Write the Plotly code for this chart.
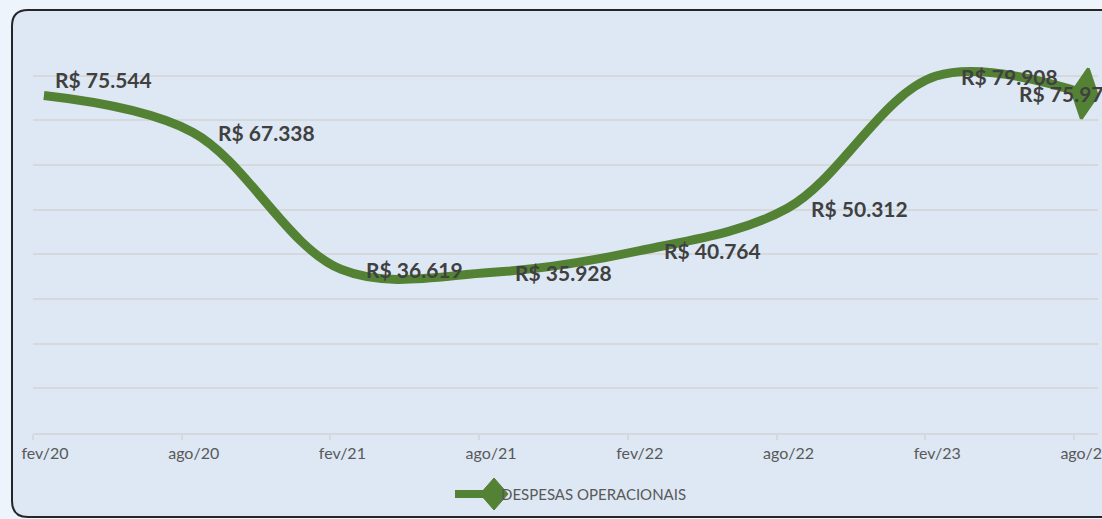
import plotly.graph_objects as go

# ---- data ----
categories = ["fev/20", "ago/20", "fev/21", "ago/21", "fev/22", "ago/22", "fev/23", "ago/23"]
values = [75544, 67338, 36619, 35928, 40764, 50312, 79908, 75973]
series_name = "DESPESAS OPERACIONAIS"

# month index of each category (6-month steps)
months = [6 * i for i in range(len(categories))]

# ---- style ----
W, H = 1102, 519
ML, MR, MT, MB = 33, 4, 31, 86
PW, PH = W - ML - MR, H - MT - MB
GREEN = "#548235"
OUTER = "#eef4fb"
INNER = "#dde8f4"
GRID = "#d6d9dc"
TXT = "#404040"
TICK = "#595959"
FONT = "Lato, 'Open Sans', sans-serif"

tick_offset = 0.44          # category boundary before the data point (months)
px_per_month = 148.7 / 6
x0 = -tick_offset
x1 = x0 + PW / px_per_month

label_dx = [9, 23, 23, 23, 23, 22, 23, -68]
label_dy = [16, 0, 0, 0, 0, 0, 0, 0]


def X(px):
    return (px - ML) / PW


def Y(py):
    return (H - MB - py) / PH


fig = go.Figure()

fig.add_trace(go.Scatter(
    x=months, y=values, mode="lines", name=series_name,
    line=dict(color=GREEN, width=9, shape="spline", smoothing=1),
    showlegend=False, hoverinfo="skip", cliponaxis=False,
))
fig.add_trace(go.Scatter(
    x=months[-1:], y=values[-1:], mode="markers",
    marker=dict(symbol="diamond-tall", size=36, angle=8, color=GREEN,
                line=dict(color=GREEN, width=3)),
    showlegend=False, hoverinfo="skip", cliponaxis=False,
))

for i, (m, v) in enumerate(zip(months, values)):
    fig.add_annotation(
        x=m, y=v, text="R$ " + f"{v:,}".replace(",", "."),
        showarrow=False, xanchor="left", yanchor="middle",
        xshift=label_dx[i], yshift=label_dy[i],
        font=dict(family=FONT, size=21, color=TXT, weight="bold"),
    )

# rounded chart-area border
L, T, R, B, r = 12, 10, 1140, 517, 16
path = (
    f"M{X(L + r)},{Y(T)} L{X(R)},{Y(T)} L{X(R)},{Y(B)} L{X(L + r)},{Y(B)} "
    f"Q{X(L)},{Y(B)} {X(L)},{Y(B - r)} L{X(L)},{Y(T + r)} "
    f"Q{X(L)},{Y(T)} {X(L + r)},{Y(T)} Z"
)
fig.add_shape(type="path", path=path, xref="paper", yref="paper",
              fillcolor=INNER, line=dict(color="#262626", width=2), layer="below")

# legend (line with diamond end, as in the original)
LY = 494
fig.add_shape(type="line", xref="paper", yref="paper",
              x0=X(455), x1=X(488), y0=Y(LY), y1=Y(LY),
              line=dict(color=GREEN, width=8))
fig.add_shape(type="path", xref="paper", yref="paper",
              path=f"M{X(494)},{Y(LY - 16)} L{X(508)},{Y(LY)} L{X(494)},{Y(LY + 16)} "
                   f"L{X(480)},{Y(LY)} Z",
              fillcolor=GREEN, line=dict(color=GREEN, width=1))
fig.add_annotation(x=X(499), y=Y(LY), xref="paper", yref="paper",
                   text=series_name, showarrow=False, xanchor="left", yanchor="middle",
                   font=dict(family=FONT, size=15, color=TICK))

fig.update_layout(
    width=W, height=H,
    margin=dict(l=ML, r=MR, t=MT, b=MB, autoexpand=False),
    paper_bgcolor=OUTER, plot_bgcolor="rgba(0,0,0,0)",
    font=dict(family=FONT, color=TICK),
    showlegend=False,
    xaxis=dict(range=[x0, x1], tickmode="array", automargin=False,
               tickvals=[m - tick_offset for m in months], ticktext=categories,
               ticklabelshift=12, ticklabeloverflow="allow",
               showgrid=False, zeroline=False, showline=True, linecolor=GRID, linewidth=1.5,
               ticks="outside", ticklen=5, tickcolor=GRID, tickwidth=1.5,
               tickfont=dict(family=FONT, size=16, color=TICK)),
    yaxis=dict(range=[0, 90000], dtick=10000, showgrid=True, gridcolor=GRID, gridwidth=1.5,
               automargin=False,
               showticklabels=False, zeroline=False, showline=False),
)

fig.write_html("out.html", config={"displayModeBar": False},
               post_script="document.body.style.margin='0';"
                           "document.body.style.overflow='hidden';"
                           "document.body.style.background='" + OUTER + "';")
